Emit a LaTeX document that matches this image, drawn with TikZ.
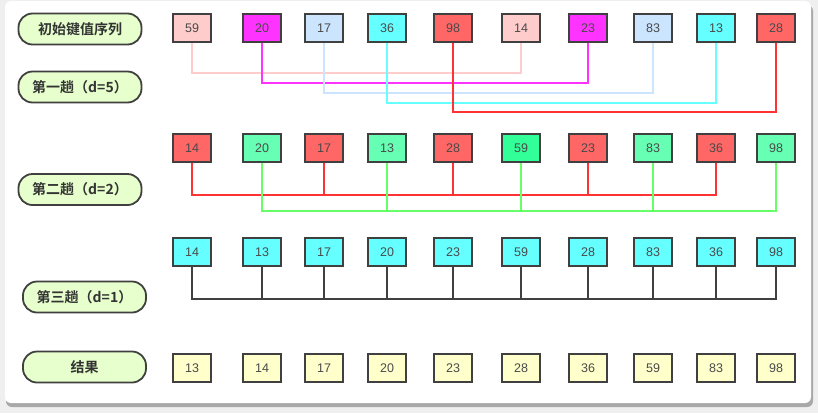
\documentclass[tikz,border=0pt]{standalone}
\usepackage{fontspec}
\setmainfont{Liberation Sans}
\newfontfamily\cjk{Noto Sans CJK SC}[BoldFont={Noto Sans CJK SC Bold}]
\begin{document}
\begin{tikzpicture}[x=1pt,y=-1pt,
  box/.style={draw=boxline,line width=2pt,minimum width=38pt,minimum height=28pt,inner sep=0pt,
    font=\fontsize{12.5}{14}\selectfont,text=numtext},
  pill/.style={draw=boxline,line width=1.8pt,fill=pillfill,rounded corners=14pt,minimum width=123pt,
    minimum height=31pt,inner sep=0pt,font=\cjk\bfseries\fontsize{14}{16}\selectfont,text=labeltext},
  link/.style={line width=2pt}]
\definecolor{boxline}{HTML}{404040}
\definecolor{numtext}{HTML}{4A4A4A}
\definecolor{labeltext}{HTML}{333333}
\definecolor{pillfill}{HTML}{E6FFCC}
\definecolor{cpink}{HTML}{FFCCCC}
\definecolor{cmag}{HTML}{FF33FF}
\definecolor{cblue}{HTML}{CCE5FF}
\definecolor{ccyan}{HTML}{66FFFF}
\definecolor{cred}{HTML}{FF6666}
\definecolor{lred}{HTML}{FF3333}
\definecolor{cgreen}{HTML}{66FFB3}
\definecolor{cgreen2}{HTML}{33FF99}
\definecolor{lgreen}{HTML}{66FF66}
\definecolor{cyel}{HTML}{FFFFCC}
\definecolor{bggray}{HTML}{EFEFEF}
\definecolor{shadow}{HTML}{A8A8A8}
% background and panel
\useasboundingbox (0,0) rectangle (818,413);
\fill[bggray] (0,0) rectangle (818,413);
\fill[shadow,rounded corners=6pt] (6,5) rectangle (813,407);
\fill[white,rounded corners=6pt] (5,1) rectangle (811,403);
% labels
\node[pill] (p1) at (80,29) {初始键值序列};
\node[pill] (p2) at (80,87) {第一趟（d=5）};
\node[pill] (p3) at (80,189.5) {第二趟（d=2）};
\node[pill] (p4) at (84.5,297) {第三趟（d=1）};
\node[pill] (p5) at (84.5,367) {结果};
% row 1
\node[box,fill=cpink]  (a1)  at (192,28) {59};
\node[box,fill=cmag]   (a2)  at (262,28) {20};
\node[box,fill=cblue]  (a3)  at (324,28) {17};
\node[box,fill=ccyan]  (a4)  at (387,28) {36};
\node[box,fill=cred]   (a5)  at (453,28) {98};
\node[box,fill=cpink]  (a6)  at (521,28) {14};
\node[box,fill=cmag]   (a7)  at (588,28) {23};
\node[box,fill=cblue]  (a8)  at (653,28) {83};
\node[box,fill=ccyan]  (a9)  at (716,28) {13};
\node[box,fill=cred]   (a10) at (776,28) {28};
% row 2
\node[box,fill=cred]    (b1)  at (192,148) {14};
\node[box,fill=cgreen]  (b2)  at (262,148) {20};
\node[box,fill=cred]    (b3)  at (324,148) {17};
\node[box,fill=cgreen]  (b4)  at (387,148) {13};
\node[box,fill=cred]    (b5)  at (453,148) {28};
\node[box,fill=cgreen2] (b6)  at (521,148) {59};
\node[box,fill=cred]    (b7)  at (588,148) {23};
\node[box,fill=cgreen]  (b8)  at (653,148) {83};
\node[box,fill=cred]    (b9)  at (716,148) {36};
\node[box,fill=cgreen]  (b10) at (776,148) {98};
% row 3
\foreach \i/\x/\v in {1/192/14,2/262/13,3/324/17,4/387/20,5/453/23,6/521/59,7/588/28,8/653/83,9/716/36,10/776/98}
  \node[box,fill=ccyan] (c\i) at (\x,252) {\v};
% row 4
\foreach \i/\x/\v in {1/192/13,2/262/14,3/324/17,4/387/20,5/453/23,6/521/28,7/588/36,8/653/59,9/716/83,10/776/98}
  \node[box,fill=cyel] (d\i) at (\x,368) {\v};
% level coordinates
\coordinate (y1) at (0,73);
\coordinate (y2) at (0,83);
\coordinate (y3) at (0,93);
\coordinate (y4) at (0,103);
\coordinate (y5) at (0,112);
\coordinate (y6) at (0,195);
\coordinate (y7) at (0,211);
\coordinate (y8) at (0,299);
% first pass links
\draw[link,cpink] (a1.south) -- (a1.south |- y1) -| (a6.south);
\draw[link,cmag]  (a2.south) -- (a2.south |- y2) -| (a7.south);
\draw[link,cblue] (a3.south) -- (a3.south |- y3) -| (a8.south);
\draw[link,ccyan] (a4.south) -- (a4.south |- y4) -| (a9.south);
\draw[link,lred]  (a5.south) -- (a5.south |- y5) -| (a10.south);
% second pass links
\draw[link,lred] (b1.south) -- (b1.south |- y6) -| (b9.south);
\foreach \n in {b3,b5,b7} \draw[link,lred] (\n.south) -- (\n.south |- y6);
\draw[link,lgreen] (b2.south) -- (b2.south |- y7) -| (b10.south);
\foreach \n in {b4,b6,b8} \draw[link,lgreen] (\n.south) -- (\n.south |- y7);
% third pass links
\draw[link,boxline] (c1.south) -- (c1.south |- y8) -| (c10.south);
\foreach \i in {2,...,9} \draw[link,boxline] (c\i.south) -- (c\i.south |- y8);
\end{tikzpicture}
\end{document}
